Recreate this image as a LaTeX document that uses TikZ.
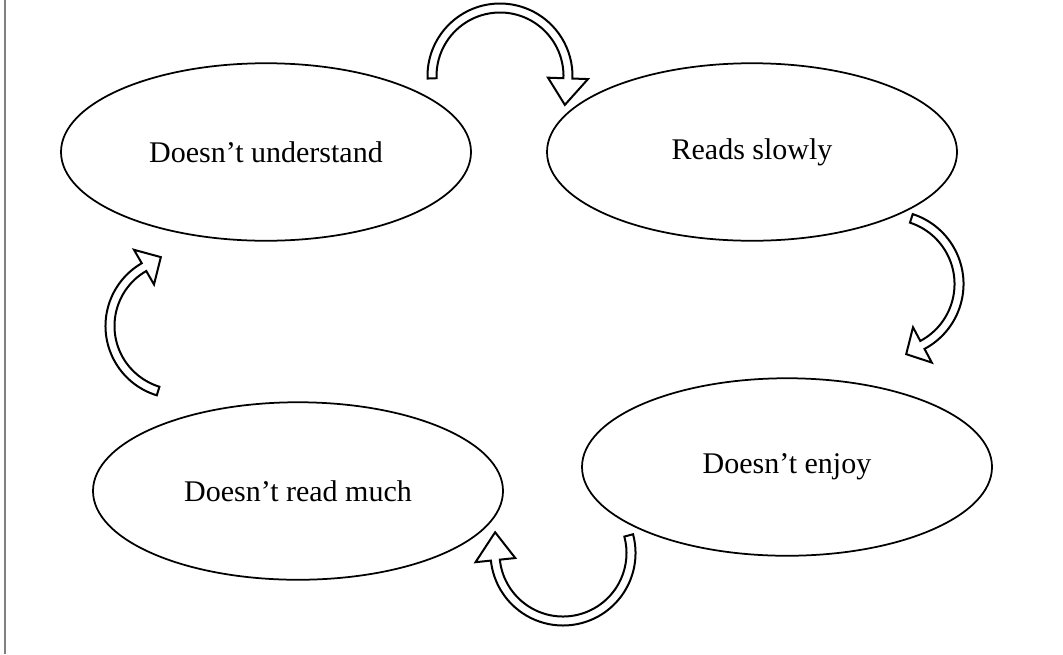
\documentclass[tikz,border=0pt]{standalone}
\usepackage{fontspec}
\setmainfont{Liberation Serif}
\usepackage{tikz}
\usetikzlibrary{shapes.geometric}

% curved block arrow: centre, radius, start angle, end angle, head angle
\newcommand{\cyclearrow}[5]{%
  \draw[blockarrow, shift={(#1)}]
    (#3:{#2+4.5}) arc[start angle=#3, end angle=#4, radius={#2+4.5}]
    -- (#4:{#2+20}) -- ({#4+#5}:{#2+3}) -- (#4:{#2-20})
    -- (#4:{#2-4.5}) arc[start angle=#4, end angle=#3, radius={#2-4.5}]
    -- cycle;}

\begin{document}
\begin{tikzpicture}[x=0.4pt, y=-0.4pt,
    state/.style={ellipse, draw, line width=0.7pt, inner sep=0pt,
      minimum width=164pt, minimum height=71pt,
      font=\fontsize{12}{14}\selectfont},
    blockarrow/.style={draw, fill=white, line width=0.8pt, line join=miter}]
      \useasboundingbox (0, 0) rectangle (1063, 654);
      \draw[gray, line width=0.5pt] (5, 0) -- (5, 654);
      \node[state] (und) at (266, 152) {Doesn't understand};
      \node[state] (slow) at (752, 152) {Reads slowly};
      \node[state] (enjoy) at (787, 467) {Doesn't enjoy};
      \node[state] (much) at (298, 491) {Doesn't read much};
      % arrow centres
      \coordinate (a1) at (500, 76);
      \coordinate (a2) at (890, 284);
      \coordinate (a3) at (563, 553);
      \coordinate (a4) at (178, 326);
      \cyclearrow{a1}{68}{178}{362}{22}
      \cyclearrow{a2}{69}{-72}{62}{15}
      \cyclearrow{a3}{68}{-15}{174}{23}
      \cyclearrow{a4}{68}{107}{240}{16}
\end{tikzpicture}
\end{document}
